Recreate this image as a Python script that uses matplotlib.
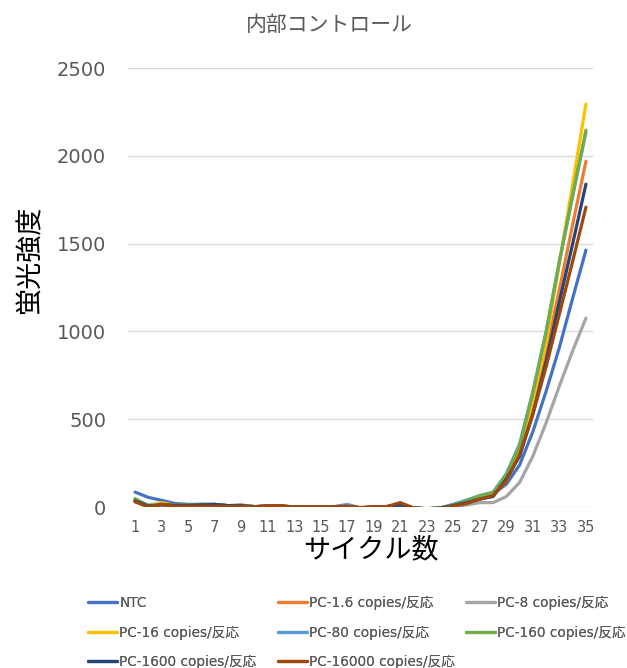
import numpy as np
import matplotlib.pyplot as plt

plt.rcParams['font.family'] = ['Noto Sans CJK JP', 'DejaVu Sans']

cycles = np.arange(1, 36)

ntc = [85, 55, 38, 20, 15, 15, 15, 8, 8, 2, 5, 5, 0, 0, -2, 2, 5, -5, 0, 3,
       15, -10, -15, -10, 15, 35, 55, 75, 130, 240, 430, 660, 910, 1190, 1463]
pc_1_6 = [30, 5, 15, 8, 8, 10, 10, 5, 8, 0, 5, 5, 0, 0, 0, 0, 3, -5, 0, 2,
          15, -5, -10, -5, 5, 20, 45, 70, 150, 300, 560, 880, 1240, 1610, 1970]
pc_8 = [35, 5, 12, 8, 10, 10, 8, 5, 12, 2, 5, 5, 0, 0, 0, 0, 2, -5, 0, 0,
        10, -5, -12, -5, 3, 12, 25, 25, 60, 140, 290, 480, 690, 890, 1076]
pc_16 = [40, 10, 25, 10, 10, 12, 12, 6, 10, 2, 5, 5, 0, 0, 0, 0, 3, -5, 0, 2,
         12, -5, -10, -5, 8, 25, 55, 75, 170, 320, 610, 940, 1390, 1840, 2295]
pc_80 = [45, 10, 15, 12, 12, 15, 12, 8, 10, 2, 5, 5, 0, 0, 0, 2, 15, -5, 0, 2,
         10, -5, -10, -5, 15, 40, 65, 85, 190, 360, 660, 1000, 1400, 1770, 2135]
pc_160 = [48, 5, 15, 12, 12, 15, 15, 8, 10, 2, 5, 5, 0, 0, 0, 0, 3, -5, 0, 2,
          5, -5, -10, -5, 12, 35, 65, 80, 185, 350, 650, 1000, 1400, 1780, 2147]
pc_1600 = [35, 5, 12, 10, 10, 12, 15, 8, 8, 2, 5, 5, 0, 0, 0, 0, 3, -5, 0, 2,
           12, -5, -10, -5, 8, 25, 45, 60, 160, 290, 530, 830, 1170, 1500, 1839]
pc_16000 = [30, 0, 15, 5, 5, 5, 5, 3, 5, 0, 8, 8, 0, 2, 0, 2, 5, -3, 2, 3,
            25, -5, -10, -8, 5, 20, 45, 65, 150, 300, 530, 800, 1100, 1400, 1708]

series = [ntc, pc_1_6, pc_8, pc_16, pc_80, pc_160, pc_1600, pc_16000]
labels = ['NTC', 'PC-1.6 copies/反応', 'PC-8 copies/反応', 'PC-16 copies/反応',
          'PC-80 copies/反応', 'PC-160 copies/反応', 'PC-1600 copies/反応',
          'PC-16000 copies/反応']
colors = ['#4472C4', '#ED7D31', '#A5A5A5', '#FFC000', '#5B9BD5', '#70AD47',
          '#264478', '#9E480E']

grey = '#595959'
num_font = ['DejaVu Sans', 'Noto Sans CJK JP']

fig = plt.figure(figsize=(6.27, 6.68), dpi=100)
ax = fig.add_axes([0.2048, 0.241, 0.7403, 0.657])

lines = []
for s, lab, c in zip(series, labels, colors):
    ln, = ax.plot(cycles, s, color=c, lw=2.3, label=lab, solid_capstyle='round')
    lines.append(ln)

ax.set_xlim(0.5, 35.5)
ax.set_ylim(0, 2500)
ax.set_yticks(np.arange(0, 2501, 500))
ax.set_xticks(np.arange(1, 36, 2))
ax.grid(axis='y', color='#D9D9D9', lw=1)
ax.set_axisbelow(True)
for sp in ax.spines.values():
    sp.set_visible(False)
ax.tick_params(length=0, colors=grey)
ax.tick_params(axis='x', labelsize=10.5, pad=9)
ax.tick_params(axis='y', labelsize=14, pad=16)
for t in ax.get_xticklabels() + ax.get_yticklabels():
    t.set_family(num_font)

fig.text(0.525, 1 - 25 / 668, '内部コントロール', fontsize=15, color=grey,
         ha='center', va='center')
ax.set_xlabel('サイクル数', fontsize=19.5, color='black', va='center')
ax.xaxis.set_label_coords(0.523, -0.098)
ax.set_ylabel('蛍光強度', fontsize=19.5, color='black', va='center')
ax.yaxis.set_label_coords(-0.212, 0.563)

# legend: three columns placed like the original
cols = [[0, 3, 6], [1, 4, 7], [2, 5]]
col_x = [88, 278, 466]
for idx, x in zip(cols, col_x):
    leg = fig.legend([lines[i] for i in idx], [labels[i] for i in idx],
                     loc='upper left', bbox_to_anchor=(x / 627, 0.108),
                     borderpad=0, borderaxespad=0, frameon=False,
                     prop={'family': num_font, 'size': 9.8},
                     handlelength=2.1, handletextpad=0.2, labelspacing=1.15,
                     labelcolor=grey)
    fig.add_artist(leg)

fig.savefig('out.png', dpi=100)
